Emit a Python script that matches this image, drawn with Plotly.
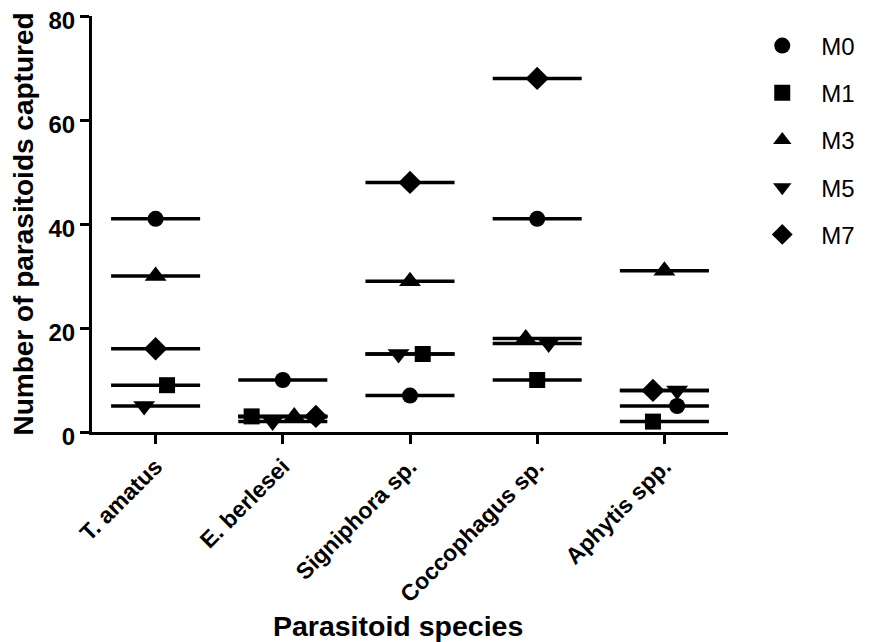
import plotly.graph_objects as go

categories = ["T. amatus", "E. berlesei", "Signiphora sp.", "Coccophagus sp.", "Aphytis spp."]
series_names = ["M0", "M1", "M3", "M5", "M7"]

m0 = [41, 10, 7, 41, 5]
m1 = [9, 3, 15, 10, 2]
m3 = [30, 3, 29, 18, 31]
m5 = [5, 2, 15, 17, 8]
m7 = [16, 3, 48, 68, 8]

# horizontal jitter of markers (category units), as in the scatter dot plot
jit_m0 = [0.0, 0.0, 0.0, 0.0, 0.1]
jit_m1 = [0.09, -0.245, 0.1, 0.0, -0.09]
jit_m3 = [0.0, 0.09, 0.0, -0.09, 0.0]
jit_m5 = [-0.09, -0.08, -0.09, 0.09, 0.1]
jit_m7 = [0.0, 0.26, 0.0, 0.0, -0.09]

values = [m0, m1, m3, m5, m7]
jitters = [jit_m0, jit_m1, jit_m3, jit_m5, jit_m7]
symbols = ["circle", "square", "triangle-up", "triangle-down", "diamond"]
sizes = [16, 16, 19, 19, 18]

FONT = "Arial, Liberation Sans, sans-serif"
HALF = 0.35

fig = go.Figure()
for name, vals in zip(series_names, values):
    xs, ys = [], []
    for i, v in enumerate(vals):
        xs += [i - HALF, i + HALF, None]
        ys += [v, v, None]
    fig.add_trace(go.Scatter(x=xs, y=ys, mode="lines", line=dict(color="black", width=3.5),
                             showlegend=False, hoverinfo="skip", cliponaxis=False))

for name, vals, jit, sym, sz in zip(series_names, values, jitters, symbols, sizes):
    fig.add_trace(go.Scatter(
        x=[i + j for i, j in enumerate(jit)], y=vals, mode="markers", name=name,
        legendgroup=name,
        marker=dict(symbol=sym, size=sz, color="black", line=dict(width=0)),
        cliponaxis=False))

# the page body adds an 8px margin, so the figure is sized to fit the 870x642 window
fig.update_layout(
    width=862, height=634,
    margin=dict(l=84, r=142, t=8, b=210, autoexpand=False),
    plot_bgcolor="white", paper_bgcolor="white",
    font=dict(family=FONT, color="black"),
    showlegend=True,
    legend=dict(x=1.024, y=0.982, xanchor="left", yanchor="top",
                font=dict(size=24, family=FONT, color="black"),
                tracegroupgap=13, itemwidth=68, bgcolor="rgba(0,0,0,0)"),
    xaxis=dict(
        range=[-0.5, 4.5], tickmode="array", tickvals=list(range(len(categories))),
        ticktext=categories, tickangle=-45, automargin=False,
        tickfont=dict(size=23, family=FONT, color="black", weight="bold"),
        showline=True, linecolor="black", linewidth=3,
        ticks="outside", ticklen=9, tickwidth=3, tickcolor="black",
        showgrid=False, zeroline=False, ticklabeloverflow="allow",
        title=dict(text="<b>Parasitoid species</b>&nbsp;&nbsp;&nbsp;",
                   font=dict(size=28.5, family=FONT, color="black"), standoff=15),
    ),
    yaxis=dict(
        range=[0, 80], tickmode="array", tickvals=[0, 20, 40, 60, 80], automargin=False,
        tickfont=dict(size=24, family=FONT, color="black", weight="bold"),
        ticklabelshift=5,
        showline=True, linecolor="black", linewidth=3,
        ticks="outside", ticklen=9, tickwidth=3, tickcolor="black",
        showgrid=False, zeroline=False, ticklabeloverflow="allow",
        title=dict(text="<b>Number of parasitoids captured</b>", font=dict(size=28, family=FONT, color="black"),
                   standoff=10),
    ),
)

fig.write_html("out.html")
